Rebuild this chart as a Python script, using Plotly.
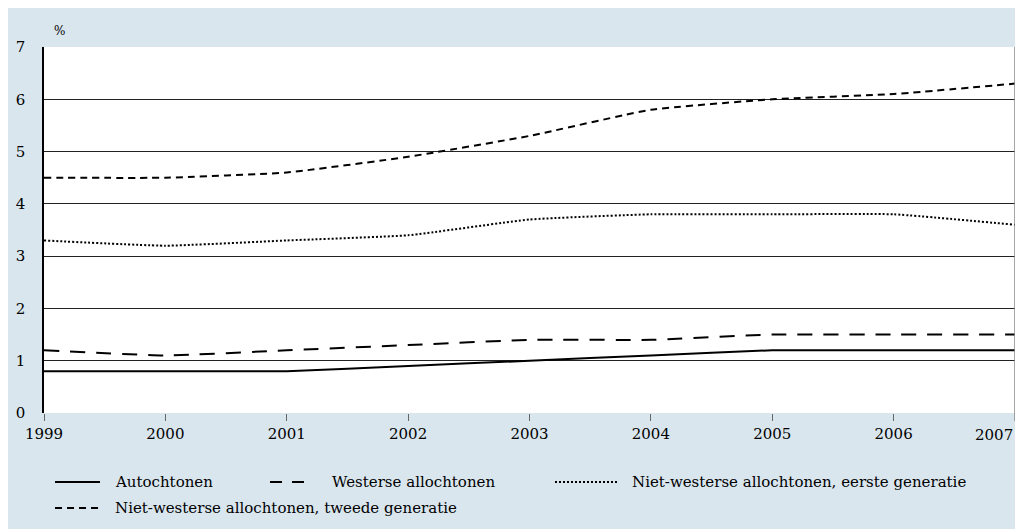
import plotly.graph_objects as go

years = [1999, 2000, 2001, 2002, 2003, 2004, 2005, 2006, 2007]
autochtonen = [0.8, 0.8, 0.8, 0.9, 1.0, 1.1, 1.2, 1.2, 1.2]
westerse = [1.2, 1.1, 1.2, 1.3, 1.4, 1.4, 1.5, 1.5, 1.5]
nw_eerste = [3.3, 3.2, 3.3, 3.4, 3.7, 3.8, 3.8, 3.8, 3.6]
nw_tweede = [4.5, 4.5, 4.6, 4.9, 5.3, 5.8, 6.0, 6.1, 6.3]

names = ["Autochtonen", "Westerse allochtonen",
         "Niet-westerse allochtonen, eerste generatie",
         "Niet-westerse allochtonen, tweede generatie"]
series = [autochtonen, westerse, nw_eerste, nw_tweede]
dashes = ["solid", "15px,11px", "2px,2px", "7px,5px"]
legend_dashes = ["solid", "12px,10px", "2px,2px", "7px,5px"]

FONT = "DejaVu Serif"
BG = "#d9e6ee"

fig = go.Figure()
for name, vals, d in zip(names, series, dashes):
    fig.add_trace(go.Scatter(
        x=years, y=vals, mode="lines", name=name,
        line=dict(color="black", width=2, dash=d, shape="spline", smoothing=0.4),
        showlegend=False, hoverinfo="x+y+name"))

# page body has an 8px offset; figure placed accordingly
OFF = 8
W, H = 1023 - OFF, 529 - OFF
# plot area in screen pixels: x 44..1015, y 47..413
SL, SR, ST, SB = 44, 1015, 47, 413
L, R, T, B = SL - OFF, (W + OFF) - SR, ST - OFF, (H + OFF) - SB
pw, ph = SR - SL, SB - ST

def px(x):
    return (x - SL) / pw

def py(y):
    return (SB - y) / ph

shapes = []
annotations = []
# right border
shapes.append(dict(type="line", xref="paper", yref="paper", x0=1, x1=1, y0=py(421), y1=1,
                   line=dict(color="#888888", width=1.5)))

legend_items = [
    (55, 100, 113, 482),
    (270, 313, 330, 482),
    (555, 618, 630, 482),
    (55, 100, 113, 508),
]
for (x0, x1, tx, yy), name, d in zip(legend_items, names, legend_dashes):
    shapes.append(dict(type="line", xref="paper", yref="paper",
                       x0=px(x0), x1=px(x1), y0=py(yy), y1=py(yy),
                       line=dict(color="black", width=2, dash=d)))
    annotations.append(dict(xref="paper", yref="paper", x=px(tx), y=py(yy),
                            text=name, showarrow=False, xanchor="left", yanchor="middle",
                            font=dict(family=FONT, size=15, color="black")))

annotations.append(dict(xref="paper", yref="paper", x=px(52), y=py(31),
                        text="%", showarrow=False, xanchor="left", yanchor="middle",
                        font=dict(family=FONT, size=12, color="black")))

# last tick label, kept inside the page edge
ticktext = [str(y) for y in years]
last_label = ticktext[-1]
ticktext[-1] = ""
annotations.append(dict(xref="paper", yref="paper", x=px(1014), y=py(435),
                        text=last_label, showarrow=False, xanchor="right", yanchor="middle",
                        borderpad=0, font=dict(family=FONT, size=15, color="black")))

fig.update_layout(
    width=W, height=H,
    margin=dict(l=L, r=R, t=T, b=B, pad=0, autoexpand=False),
    paper_bgcolor=BG, plot_bgcolor="white",
    font=dict(family=FONT, size=15, color="black"),
    shapes=shapes, annotations=annotations,
    showlegend=False,
)
fig.update_xaxes(range=[1999, 2007], tickvals=years, ticktext=ticktext,
                 showgrid=False, zeroline=False, showline=False, automargin=False,
                 ticks="outside", ticklen=7, tickcolor="#666666", tickwidth=1,
                 tickfont=dict(family=FONT, size=15))
fig.update_yaxes(range=[0, 7], dtick=1, showgrid=True, gridcolor="#222222", gridwidth=1,
                 zeroline=False, showline=True, linecolor="black", linewidth=1.5,
                 automargin=False, ticks="", ticklabelstandoff=14,
                 tickfont=dict(family=FONT, size=15))

fig.write_html("out.html")
